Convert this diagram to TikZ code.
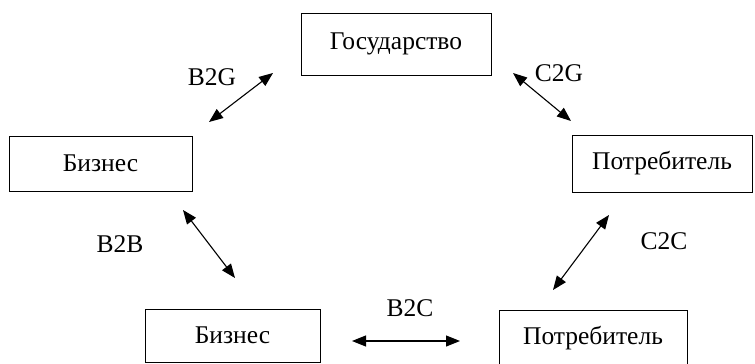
\documentclass[tikz,border=0pt]{standalone}
\usepackage{fontspec}
\setmainfont{Liberation Serif}
\usetikzlibrary{arrows.meta}

\begin{document}
\begin{tikzpicture}[x=1pt, y=-1pt,
  ent/.style={draw, line width=1pt, inner sep=0pt, anchor=center,
              font=\fontsize{25.5}{30}\selectfont},
  lab/.style={font=\fontsize{25.5}{30}\selectfont, inner sep=0pt},
  rel/.style={{Triangle[length=14pt,width=11pt]}-{Triangle[length=14pt,width=11pt]},
              line width=1.1pt}]
\useasboundingbox (0,0) rectangle (755,364);
\clip (0,0) rectangle (755,364);
\node[ent, minimum width=190pt, minimum height=62pt] (gov)   at (396,44)    {Государство};
\node[ent, minimum width=183pt, minimum height=55pt] (biz)   at (100.5,163.5) {Бизнес};
\node[ent, minimum width=180pt, minimum height=57pt] (cons)  at (662,163.5) {Потребитель};
\node[ent, minimum width=175pt, minimum height=53pt] (biz2)  at (232.5,335.5) {Бизнес};
\node[ent, minimum width=188pt, minimum height=56pt] (cons2) at (593,338)   {Потребитель};
% arrow ends
\coordinate (bg1) at (209,122);
\coordinate (bg2) at (273,73);
\coordinate (cg1) at (513,73);
\coordinate (cg2) at (571,121);
\coordinate (bb1) at (183,210);
\coordinate (bb2) at (235,278);
\coordinate (cc1) at (609,215);
\coordinate (cc2) at (553,290);
\coordinate (bc1) at (352,341);
\coordinate (bc2) at (460,341);
\draw[rel] (bg1) -- (bg2);
\draw[rel] (cg1) -- (cg2);
\draw[rel] (bb1) -- (bb2);
\draw[rel] (cc1) -- (cc2);
\draw[rel] (bc1) -- (bc2);
\node[lab] (lbg) at (212,77)  {B2G};
\node[lab] (lcg) at (559,73)  {C2G};
\node[lab] (lbb) at (120,244) {B2B};
\node[lab] (lcc) at (664,241) {C2C};
\node[lab] (lbc) at (410,308) {B2C};
\end{tikzpicture}
\end{document}
